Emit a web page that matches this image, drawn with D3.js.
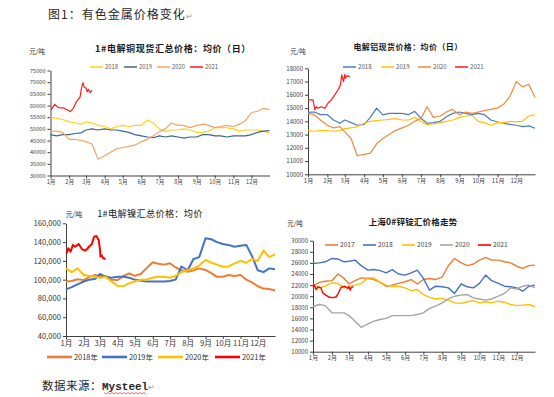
<!DOCTYPE html>
<html>
<head>
<meta charset="utf-8">
<script src="https://cdn.jsdelivr.net/npm/d3@7"></script>
<style>
  body { margin: 0; background: #fff; }
  svg text { font-family: "Noto Sans CJK SC", "Noto Sans", sans-serif; }
</style>
</head>
<body>
<div id="chart"></div>
<script>
// sample dates (every ~10 days) for the full-year series
const dekads = ["01-01","01-11","01-21","02-01","02-11","02-21","03-01","03-11","03-21","04-01","04-11","04-21",
  "05-01","05-11","05-21","06-01","06-11","06-21","07-01","07-11","07-21","08-01","08-11","08-21",
  "09-01","09-11","09-21","10-01","10-11","10-21","11-01","11-11","11-21","12-01","12-11","12-21","12-31"];
const monthLabels = ["1月","2月","3月","4月","5月","6月","7月","8月","9月","10月","11月","12月"];

// copper
const cuTicks = [30000,35000,40000,45000,50000,55000,60000,65000,70000,75000];
const cu2018 = [54900,54500,54000,53000,52600,52000,53000,52500,51500,51000,50000,51000,51500,51000,51500,51500,53800,52500,50000,48800,49500,49500,50000,49500,48500,48500,49000,50500,50500,50500,50000,49000,49500,49500,49500,49000,48200];
const cu2019 = [47500,47000,47500,47500,48000,48300,49500,50000,49500,50000,49500,49500,49000,48500,47500,47000,46500,46200,47000,46500,47000,46500,46000,46500,46500,47500,47500,47000,47000,46500,47000,47000,47000,47500,48500,49000,49200];
const cu2020 = [49000,49000,48500,45500,45500,45000,44500,43500,37000,38500,40000,41500,42000,42500,43000,44500,45500,47000,48800,50000,52500,51500,51500,50500,51500,52000,51500,50500,51000,51500,51000,52000,53500,57000,57500,58800,58200];
const cu2021Days = ["01-02","01-08","01-14","01-22","01-29","02-03","02-08","02-13","02-19","02-22","02-24","02-26","03-01","03-03","03-05","03-08","03-11"];
const cu2021 = [58100,60500,59100,59000,58100,57400,58800,61600,63500,68100,69800,67800,67500,65900,66900,65500,66600];

// aluminium
const alTicks = [10000,11000,12000,13000,14000,15000,16000,17000,18000];
const al2018 = [14680,14700,14500,14500,14100,13850,14100,13900,13700,13770,14300,15000,14480,14600,14600,14600,14500,14750,14230,13850,13900,14000,14350,14600,14700,14600,14500,14600,14500,14100,13950,13850,13770,13700,13600,13650,13480];
const al2019 = [13300,13250,13300,13300,13250,13300,13450,13500,13600,13850,14000,14050,14100,14150,14200,14100,14100,14300,14000,13750,13800,13900,14000,14100,14300,14400,14450,14000,13900,13700,13900,13900,14000,13950,14000,14400,14500];
const al2020 = [14600,14500,14100,13700,13500,13600,13200,12700,11400,11500,11600,12300,12700,13000,13300,13500,13700,14000,14200,15100,14300,14400,14700,14900,14500,14700,14600,14700,14800,14900,15000,15300,15900,17000,16600,16800,15800];
const al2021Days = ["01-01","01-03","01-09","01-12","01-14","01-17","01-22","01-28","02-02","02-07","02-13","02-18","02-22","02-24","02-27","03-01","03-02","03-05","03-09"];
const al2021 = [15600,15610,15610,14860,15100,14980,15100,14980,15360,15600,15990,16360,16740,17500,17000,17550,17250,17450,17370];

// nickel
const niTicks = [40000,60000,80000,100000,120000,140000,160000];
const ni2018 = [98000,98500,100400,99500,103000,105000,103000,104000,100000,99600,104000,106500,104000,106000,112000,118500,117000,116000,117400,113000,110000,108500,110000,112000,110300,107000,103000,103000,105000,104000,105000,100000,97000,93000,90500,90000,88500];
const ni2019 = [89700,92000,95000,98000,100000,101000,106000,103000,102000,103000,103000,102000,100000,99000,98000,98000,98000,98000,98500,100000,114000,110000,122000,124000,144000,143000,140000,138000,137000,135000,136000,137000,125000,110000,108000,112000,111000];
const ni2020 = [112000,108000,112000,105000,104000,103000,102000,103000,98000,93300,93000,96000,98000,100000,100000,102000,103000,103000,102000,104000,108000,110000,112000,115000,121000,118000,116000,113800,114000,117000,120000,118000,122000,120000,131000,124000,127000];
const ni2021Days = ["01-02","01-05","01-09","01-13","01-17","01-23","01-29","02-04","02-10","02-15","02-19","02-23","02-27","03-01","03-02","03-04","03-07","03-11"];
const ni2021 = [128000,133400,129800,137000,135000,138000,132300,130900,135000,138000,145800,146500,142000,133400,124500,126000,122700,122000];

// zinc
const znTicks = [10000,12000,14000,16000,18000,20000,22000,24000,26000,28000,30000];
const zn2017 = [21800,22500,22700,22800,24000,23200,22200,22800,23300,23200,23000,22500,21800,22000,22300,22600,23000,22200,23000,23200,23000,23500,25500,26800,26000,25500,25800,26500,27000,26500,26500,26200,26000,25400,25000,25500,25600];
const zn2018 = [25900,26000,26200,26800,26700,26200,26300,26500,25500,24700,24800,24600,24200,24800,24000,23800,24200,24700,23200,21100,21800,21700,21500,20500,22200,21700,21500,22300,23800,22800,22300,21800,21700,21500,20900,21800,22000];
const zn2019 = [21700,21500,21800,22400,22300,21500,21800,22000,22300,23300,23300,22500,22000,21800,21800,21500,21000,21200,20300,19800,19500,19600,19300,18800,18700,19000,19200,18800,19000,18800,19100,18900,18500,18300,18400,18500,18100];
const zn2020 = [18100,18500,18300,17000,17000,17000,16500,15500,14400,15000,15500,15800,16000,16500,16500,16500,16500,16700,17000,17800,18200,18800,19500,20000,20200,20300,19700,19500,19300,19500,20000,20500,21500,21300,21800,22000,21500];
const zn2021Days = ["01-01","01-03","01-06","01-09","01-14","01-17","01-22","01-28","02-03","02-08","02-11","02-16","02-22","02-27","03-01","03-03","03-05","03-08"];
const zn2021 = [21600,22000,21200,21700,21500,20600,20200,19800,19750,19900,20400,21600,21800,21400,21700,21100,21600,21700];

const parse = d3.timeParse("%Y-%m-%d");
const toDate = (s) => parse("2019-" + s);
const pairs = (days, vals) => days.map((d, i) => [toDate(d), vals[i]]);

const svg = d3.select("#chart").append("svg")
  .attr("width", 554)
  .attr("height", 397);

function drawPanel(p) {
  const x = d3.scaleTime()
    .domain([toDate("01-01"), toDate("12-31")])
    .range(p.xr);
  const y = d3.scaleLinear()
    .domain(d3.extent(p.ticks))
    .range(p.yr);
  const g = svg.append("g");

  g.append("g")
    .attr("transform", `translate(0,${p.yr[0]})`)
    .call(d3.axisBottom(x)
      .tickValues(monthLabels.map((m, i) => new Date(2019, i, 1)))
      .tickFormat((d, i) => monthLabels[i])
      .tickSize(3).tickSizeOuter(0).tickPadding(p.xPad))
    .call((a) => a.selectAll("text").attr("font-size", p.tickFont).attr("fill", p.tickColor))
    .call((a) => a.selectAll("line,path").attr("stroke", "#404040"));

  g.append("g")
    .attr("transform", `translate(${p.xr[0]},0)`)
    .call(d3.axisLeft(y)
      .tickValues(p.ticks)
      .tickFormat(d3.format(p.fmt))
      .tickSize(3).tickSizeOuter(0).tickPadding(2))
    .call((a) => a.selectAll("text").attr("font-size", p.tickFont).attr("fill", p.tickColor))
    .call((a) => a.selectAll("line,path").attr("stroke", "#404040"));

  const line = d3.line().x((d) => x(d[0])).y((d) => y(d[1]));
  p.series.forEach((s) => {
    g.append("path")
      .datum(s.data)
      .attr("fill", "none")
      .attr("stroke", s.color)
      .attr("stroke-width", p.lw)
      .attr("stroke-linejoin", "round")
      .attr("d", line);
  });

  g.append("text")
    .attr("x", p.title[0]).attr("y", p.title[1])
    .attr("text-anchor", "middle")
    .attr("font-size", p.titleFont)
    .attr("font-weight", p.titleWeight)
    .attr("letter-spacing", p.titleSpacing)
    .attr("fill", "#1a1a1a")
    .text(p.titleText);

  g.append("text")
    .attr("x", p.unit[0]).attr("y", p.unit[1])
    .attr("text-anchor", "middle")
    .attr("font-size", p.unitFont)
    .attr("fill", "#333")
    .text("元/吨");

  const leg = g.append("g").selectAll("g")
    .data(p.series)
    .join("g")
      .attr("transform", (d, i) => `translate(${p.legX[i]},${p.legY})`);
  leg.append("line")
    .attr("x1", 0).attr("x2", p.legLen)
    .attr("stroke", (d) => d.color)
    .attr("stroke-width", p.legLw);
  leg.append("text")
    .attr("x", p.legLen + 2)
    .attr("dy", "0.35em")
    .attr("font-size", p.legFont)
    .attr("fill", p.legColor)
    .text((d) => d.name);
}

// copper, top left
drawPanel({
  xr: [50.5, 269.5], yr: [175.5, 70.5], ticks: cuTicks, fmt: "d",
  tickFont: 5.6, tickColor: "#404040", xPad: 1.5, lw: 1.2,
  title: [173, 52], titleText: "1#电解铜现货汇总价格：均价（日）", titleFont: 9, titleWeight: 600, titleSpacing: 0.6,
  unit: [37, 54], unitFont: 6.5,
  legX: [90, 124, 157, 190], legY: 67, legLen: 13, legLw: 1.5, legFont: 5.8, legColor: "#595959",
  series: [
    { name: "2018", color: "#FFD21F", data: pairs(dekads, cu2018) },
    { name: "2019", color: "#3D6594", data: pairs(dekads, cu2019) },
    { name: "2020", color: "#F5A362", data: pairs(dekads, cu2020) },
    { name: "2021", color: "#FF1A1A", data: pairs(cu2021Days, cu2021) }
  ]
});

// aluminium, top right
drawPanel({
  xr: [308, 535], yr: [174.3, 68.3], ticks: alTicks, fmt: "d",
  tickFont: 6, tickColor: "#404040", xPad: 1.5, lw: 1.2,
  title: [408, 50], titleText: "电解铝现货价格：均价（日）", titleFont: 8, titleWeight: 600, titleSpacing: 0.4,
  unit: [298, 54], unitFont: 6.5,
  legX: [343, 381, 418, 455], legY: 67, legLen: 13, legLw: 1.5, legFont: 6.2, legColor: "#595959",
  series: [
    { name: "2018", color: "#4A7CC4", data: pairs(dekads, al2018) },
    { name: "2019", color: "#FFC20E", data: pairs(dekads, al2019) },
    { name: "2020", color: "#F08A3E", data: pairs(dekads, al2020) },
    { name: "2021", color: "#FF1A1A", data: pairs(al2021Days, al2021) }
  ]
});

// nickel, bottom left
drawPanel({
  xr: [66, 275], yr: [336, 223.3], ticks: niTicks, fmt: ",",
  tickFont: 7.6, tickColor: "#333", xPad: 2, lw: 2,
  title: [150, 217], titleText: "1#电解镍汇总价格：均价", titleFont: 9.2, titleWeight: 400, titleSpacing: 0.3,
  unit: [74, 217], unitFont: 7,
  legX: [47, 102, 158, 215], legY: 357, legLen: 25, legLw: 2.6, legFont: 7.4, legColor: "#333",
  series: [
    { name: "2018年", color: "#ED7D31", data: pairs(dekads, ni2018) },
    { name: "2019年", color: "#4472C4", data: pairs(dekads, ni2019) },
    { name: "2020年", color: "#FFC000", data: pairs(dekads, ni2020) },
    { name: "2021年", color: "#FF0000", data: pairs(ni2021Days, ni2021) }
  ]
});

// zinc, bottom right
drawPanel({
  xr: [313, 535], yr: [351.7, 240.7], ticks: znTicks, fmt: "d",
  tickFont: 6, tickColor: "#404040", xPad: 1.5, lw: 1.4,
  title: [413, 225], titleText: "上海0#锌锭汇价格走势", titleFont: 8.5, titleWeight: 700, titleSpacing: 0.2,
  unit: [295, 226], unitFont: 6.5,
  legX: [325, 363, 402, 440, 478], legY: 245, legLen: 13, legLw: 1.6, legFont: 6.6, legColor: "#404040",
  series: [
    { name: "2017", color: "#ED7D31", data: pairs(dekads, zn2017) },
    { name: "2018", color: "#4472C4", data: pairs(dekads, zn2018) },
    { name: "2019", color: "#FFC000", data: pairs(dekads, zn2019) },
    { name: "2020", color: "#A5A5A5", data: pairs(dekads, zn2020) },
    { name: "2021", color: "#FF0000", data: pairs(zn2021Days, zn2021) }
  ]
});

// figure caption and source line
const cap = svg.append("text")
  .attr("x", 48).attr("y", 19)
  .attr("font-size", 12)
  .attr("letter-spacing", 1)
  .attr("fill", "#262626");
cap.append("tspan").text("图1：有色金属价格变化");
cap.append("tspan").attr("fill", "#999").attr("font-size", 8).text("↵");

const src = svg.append("text")
  .attr("x", 42).attr("y", 390)
  .attr("font-size", 11.5)
  .attr("fill", "#262626");
src.append("tspan").attr("letter-spacing", 0.5).text("数据来源：");
src.append("tspan")
  .attr("font-family", "Liberation Mono, DejaVu Sans Mono, monospace")
  .attr("font-weight", 700)
  .attr("font-size", 11)
  .text("Mysteel");
src.append("tspan").attr("fill", "#999").attr("font-size", 8).text("↵");

// spell-check squiggle under Mysteel
const wave = d3.range(104, 147, 2).map((xv, i) => [xv, 393 + (i % 2 ? 1 : -0.5)]);
svg.append("path")
  .attr("d", d3.line()(wave))
  .attr("fill", "none")
  .attr("stroke", "#E03030")
  .attr("stroke-width", 0.7);
</script>
</body>
</html>
